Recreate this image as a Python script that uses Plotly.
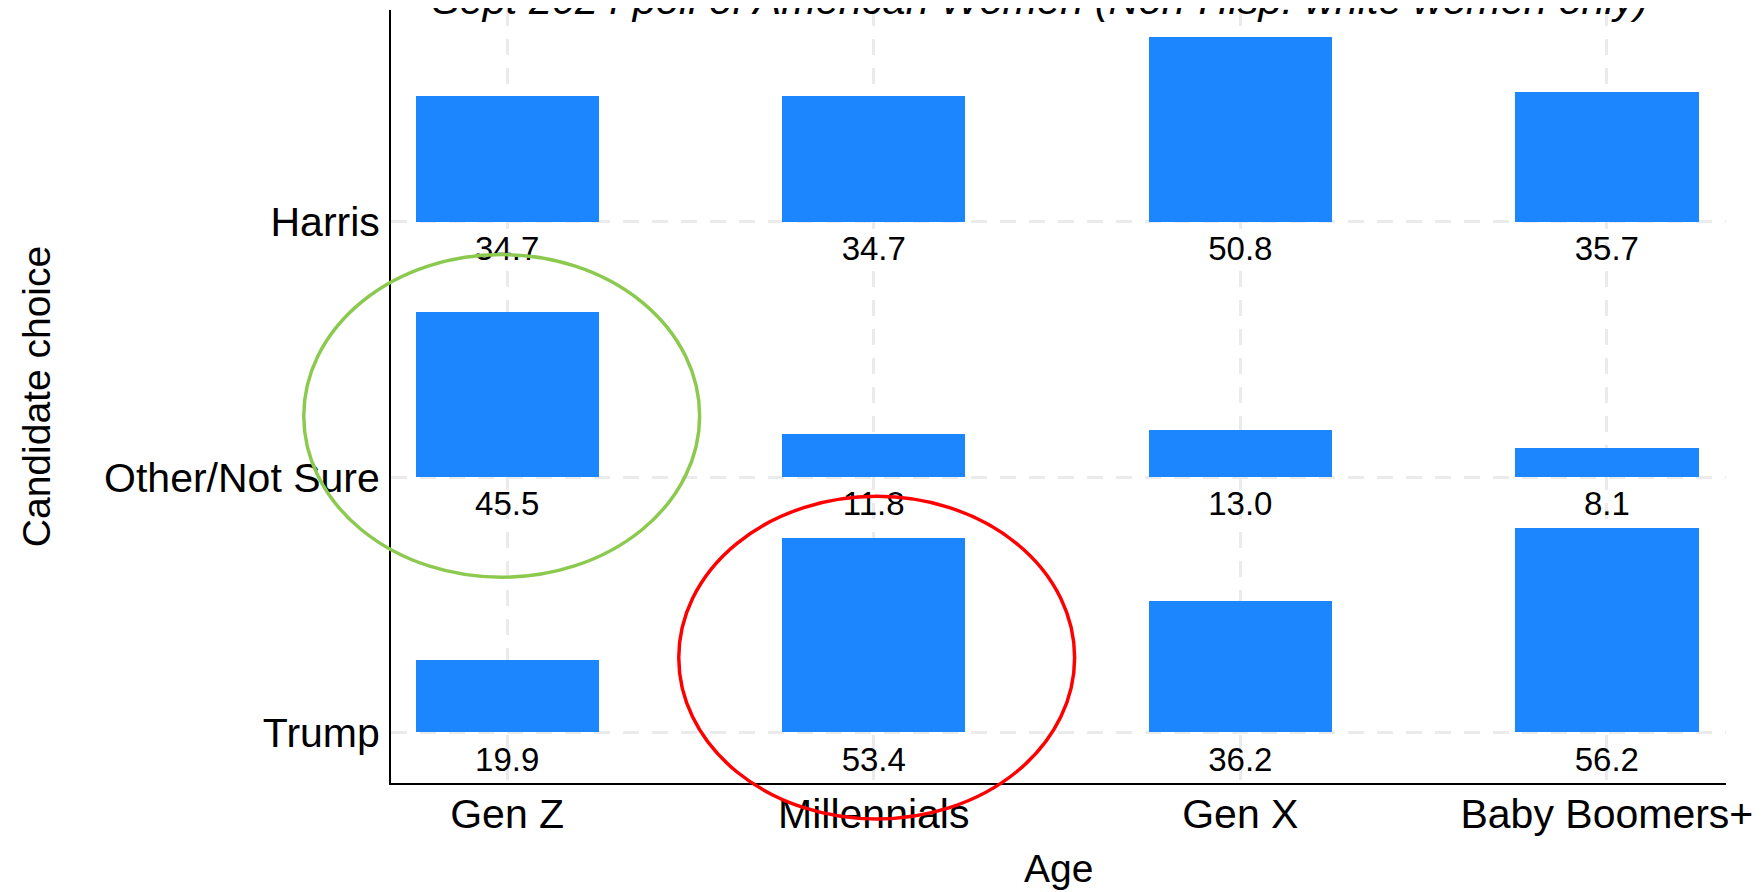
import plotly.graph_objects as go

# poll data, Sept 2024, non-Hisp. white women
ages = ['Gen Z', 'Millennials', 'Gen X', 'Baby Boomers+']
choices = ['Trump', 'Other/Not Sure', 'Harris']   # bottom to top
harris = [34.7, 34.7, 50.8, 35.7]
other = [45.5, 11.8, 13.0, 8.1]
trump = [19.9, 53.4, 36.2, 56.2]
rows = [trump, other, harris]

# highlight rings: (age index, row position, x radius, y radius, colour)
ring_x = [-0.015, 1.008]
ring_y = [1.24, 0.293]
ring_rx = [0.54, 0.54]
ring_ry = [0.632, 0.632]
ring_col = ['#8cc94f', '#ff0000']

font = 'Liberation Sans, Arial, sans-serif'
blue = '#1c86ff'
xr = [-0.317, 3.325]
yr = [-0.198, 2.83]

# tallest bar fills 80% of a row
scale = 0.8 / max(max(r) for r in rows)

fig = go.Figure()
for i, vals in enumerate(rows):
    fig.add_trace(go.Bar(
        x=list(range(len(ages))),
        y=[v * scale for v in vals],
        base=[i] * len(vals),
        width=0.5,
        marker=dict(color=blue, line=dict(width=0)),
        hoverinfo='skip',
        showlegend=False))
    fig.add_trace(go.Scatter(
        x=list(range(len(ages))),
        y=[i - 0.117] * len(vals),
        mode='text',
        text=['%.1f' % v for v in vals],
        textfont=dict(family=font, size=33, color='black'),
        cliponaxis=False,
        hoverinfo='skip',
        showlegend=False))

# rings drawn in paper coords so they are not clipped by the plot area
px = lambda v: (v - xr[0]) / (xr[1] - xr[0])
py = lambda v: (v - yr[0]) / (yr[1] - yr[0])
for cx, cy, rx, ry, col in zip(ring_x, ring_y, ring_rx, ring_ry, ring_col):
    fig.add_shape(type='circle', xref='paper', yref='paper',
                  x0=px(cx - rx), x1=px(cx + rx), y0=py(cy - ry), y1=py(cy + ry),
                  line=dict(color=col, width=3.5), layer='above')

fig.add_annotation(
    text='Sept 2024 poll of American Women (Non-Hisp. white women only)',
    xref='paper', yref='paper', x=0.486, y=1.014, yanchor='middle',
    showarrow=False, font=dict(family=font, size=41.5, color='black', style='italic'))

# axis titles as annotations so the margins stay put
fig.add_annotation(text='Age', xref='paper', yref='paper', x=0.5, y=-0.11,
                   yanchor='middle', showarrow=False,
                   font=dict(family=font, size=39, color='black'))
fig.add_annotation(text='Candidate choice', xref='paper', yref='paper', x=-0.2654, y=0.5,
                   xanchor='center', textangle=-90, showarrow=False,
                   font=dict(family=font, size=39, color='black'))

grid = dict(showgrid=True, gridcolor='#ebebeb', gridwidth=3, griddash='16px,13px',
            zeroline=False, showline=True, linecolor='black', linewidth=2, ticks='',
            automargin=False,
            tickfont=dict(family=font, size=41, color='black'))

# page body adds an 8px offset, margins compensate
fig.update_layout(
    width=1763, height=892,
    margin=dict(l=383, r=45, t=2, b=117),
    plot_bgcolor='white', paper_bgcolor='white',
    barmode='overlay', bargap=0,
    xaxis=dict(grid, range=xr, tickvals=list(range(len(ages))), ticktext=ages,
               ticklabelstandoff=-6),
    yaxis=dict(grid, range=yr, tickvals=list(range(len(choices))), ticktext=choices,
               ticklabelstandoff=1),
)

fig.write_html('out.html')
